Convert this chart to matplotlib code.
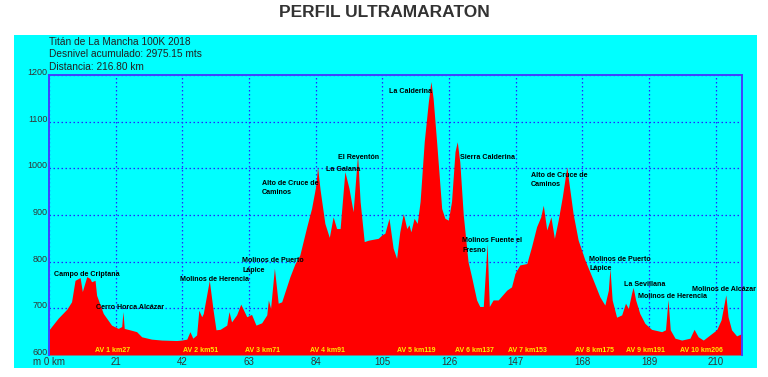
import matplotlib
matplotlib.use("Agg")
import matplotlib.pyplot as plt
import matplotlib.patches as mpatches
from matplotlib.transforms import ScaledTranslation

# Elevation profile (km, metres)
km = [0, 2.9, 5.6, 7.1, 8.2, 9.8, 10.5, 11.9, 12.9, 13.4, 14.5, 15, 17.1, 19.7, 21.8,
      22.9, 23.3, 23.7, 26, 27.6, 29.2, 32.3, 35.5, 40.2, 41.8, 43.4, 44.4, 45.3, 46.5,
      47.2, 48.1, 48.6, 50.5, 51.7, 52.6, 53.9, 56, 56.7, 57.5, 59.1, 60.4, 62.3, 63.8,
      65.2, 67, 68.6, 69.1, 69.8, 71, 72.2, 73.3, 75.9, 77.5, 79, 81.2, 82.7, 84, 84.6,
      85.4, 86.9, 88.3, 89.5, 90.6, 91.7, 93.2, 94.5, 95.8, 97.2, 98, 99.3, 100.6, 103.7,
      104.8, 105.8, 107.1, 108.4, 109.5, 110.5, 111.6, 112.7, 113.4, 114, 115, 116, 116.9,
      118.2, 119.5, 120.3, 121, 122.1, 123.7, 124.7, 125.8, 126.8, 127.9, 128.6, 129.4,
      130.5, 132, 133.1, 134.7, 135.7, 136.8, 137.5, 138, 138.7, 139.9, 141.5, 144.2,
      145.7, 146.8, 148.3, 150.5, 152, 153.6, 154.9, 155.7, 156.8, 158.1, 159.2, 160.4,
      161.7, 162.5, 163.1, 163.8, 165.1, 166.7, 168.8, 171.4, 173.5, 175.1, 176.2, 176.7,
      177.4, 178.8, 180.4, 181.6, 182.5, 183.5, 184, 184.8, 186.1, 187.7, 189.8, 193,
      194.2, 195, 195.7, 197.2, 199.3, 201.9, 203.2, 204.5, 206.1, 208.2, 210.3, 211.7,
      212.4, 213.2, 213.9, 215, 216.6, 218.3]
elev = [654, 679, 698, 714, 760, 766, 736, 768, 764, 757, 760, 728, 689, 664, 657,
        661, 693, 657, 653, 650, 639, 634, 632, 631, 632, 634, 650, 636, 643,
        696, 682, 689, 760, 696, 654, 655, 664, 693, 671, 686, 709, 682, 687,
        664, 669, 686, 718, 700, 786, 711, 714, 768, 796, 814, 875, 914, 961, 1003,
        954, 882, 852, 896, 871, 871, 993, 957, 907, 1029, 929, 843, 846, 850,
        857, 861, 893, 829, 807, 864, 903, 871, 879, 864, 893, 882, 929,
        1057, 1143, 1186, 1150, 1057, 914, 893, 889, 929, 1036, 1057, 1014,
        900, 800, 768, 718, 704, 704, 782, 839, 704, 718, 718, 739,
        746, 775, 793, 796, 832, 875, 896, 921, 868, 896, 850, 889,
        939, 975, 1003, 968, 903, 846, 804, 761, 725, 707, 739, 786,
        718, 681, 686, 711, 700, 732, 745, 718, 689, 668, 655, 650,
        654, 719, 654, 636, 632, 636, 655, 639, 632, 643, 654, 675,
        700, 729, 682, 654, 641, 646]

# Peak names, with the km / elevation where each text starts
peak_names = ["Campo de Criptana", "Cerro Horca Alcázar", "Molinos de Herencia",
              "Molinos de Puerto\nLápice", "Alto de Cruce de\nCaminos", "La Galana",
              "El Reventón", "La Calderina", "Sierra Calderina",
              "Molinos Fuente el\nFresno", "Alto de Cruce de\nCaminos",
              "Molinos de Puerto\nLápice", "La Sevillana", "Molinos de Herencia",
              "Molinos de Alcázar"]
peak_km = [1.6, 14.8, 41.3, 60.8, 67.0, 87.2, 91.1, 107.1, 129.4,
           130.1, 151.8, 170.2, 181.1, 185.4, 202.7]
peak_elev = [779, 710, 770, 810, 975, 1004, 1030, 1172, 1031,
             852, 993, 813, 758, 733, 747]

# Aid stations
av_labels = ["AV 1 km27", "AV 2 km51", "AV 3 km71", "AV 4 km91", "AV 5 km119",
             "AV 6 km137", "AV 7 km153", "AV 8 km175", "AV 9 km191", "AV 10 km206"]
av_km = [20.0, 47.7, 67.1, 87.7, 115.7, 133.9, 150.7, 171.7, 188.0, 205.6]

header = ["Titán de La Mancha 100K 2018",
          "Desnivel acumulado: 2975.15 mts",
          "Distancia: 216.80 km"]

xticks = [0, 21, 42, 63, 84, 105, 126, 147, 168, 189, 210]
xtick_labels = ["m 0 km", "21", "42", "63", "84", "105", "126", "147", "168", "189", "210"]
yticks = [600, 700, 800, 900, 1000, 1100, 1200]

plt.rcParams['font.family'] = ['Liberation Sans', 'DejaVu Sans']

fig = plt.figure(figsize=(7.68, 3.77), dpi=100)
fig.patch.set_facecolor('white')

# cyan panel behind the chart
panel = mpatches.Rectangle((0.0182, 0.0239), 0.9675, 0.8833, transform=fig.transFigure,
                           facecolor='#00FFFF', edgecolor='none', zorder=-5)
fig.add_artist(panel)

fig.text(0.5, 0.966, "PERFIL ULTRAMARATON", ha='center', va='center', fontsize=12.5,
         color='#333333', fontweight='bold')

for i, line in enumerate(header):
    fig.text(49 / 768, 1 - (42 + i * 12.3) / 377, line, ha='left', va='center',
             fontsize=7.3, color='#222222')

ax = fig.add_axes([49 / 768, 1 - 355 / 377, 693 / 768, 280 / 377])
ax.set_zorder(2)
ax.set_facecolor('#00FFFF')
ax.fill_between(km, 600, elev, color='#FF0000', linewidth=0, zorder=2)
ax.set_xlim(0, 218.3)
ax.set_ylim(600, 1200)

ax.set_xticks(xticks)
ax.set_xticklabels(xtick_labels)
ax.set_yticks(yticks)
ax.set_yticklabels([str(v) for v in yticks])
ax.tick_params(length=0, labelsize=6.5, labelcolor='#333333', pad=1)
ax.tick_params(axis='x', labelsize=7, pad=1.5)
lift = ScaledTranslation(0, 3.5 / 100, fig.dpi_scale_trans)
for lab in ax.get_yticklabels():
    lab.set_transform(lab.get_transform() + lift)
ax.grid(True, color='#2424FF', linestyle=(0, (1.2, 2)), linewidth=0.9, zorder=1)
ax.set_axisbelow(True)
for side in ['top', 'left', 'right', 'bottom']:
    ax.spines[side].set_color('#4040FF')
    ax.spines[side].set_linewidth(1.4)
ax.spines['bottom'].set_visible(False)

for name, x, y in zip(peak_names, peak_km, peak_elev):
    ax.text(x, y, name, ha='left', va='top', fontsize=5.1, fontweight='bold',
            color='black', linespacing=1.5, zorder=4, clip_on=False)

for lab, x in zip(av_labels, av_km):
    ax.text(x, 610, lab, ha='center', va='center', fontsize=5, fontweight='bold',
            color='#FFEE00', zorder=4)

fig.savefig('out.png', dpi=100)
